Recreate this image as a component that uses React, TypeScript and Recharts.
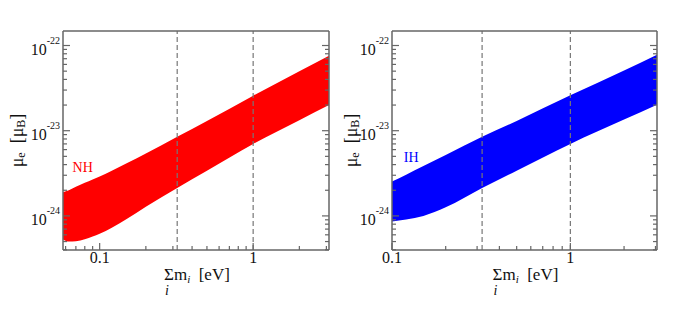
import React from 'react';
import { ComposedChart, Area, XAxis, YAxis, ReferenceLine, ReferenceDot, Label } from 'recharts';

// normal hierarchy band (sum of masses in eV vs mu_e in mu_B)
const nhMass = [0.0577, 0.063, 0.07, 0.08, 0.09, 0.1, 0.12, 0.15, 0.2, 0.32, 0.5, 1, 2, 3.12];
const nhLow = [5.3e-25, 5.0e-25, 5.05e-25, 5.33e-25, 5.73e-25, 6.18e-25, 7.26e-25, 9.2e-25, 1.28e-24, 2.13e-24, 3.4e-24, 7.0e-24, 1.33e-23, 2.0e-23];
const nhHigh = [1.9e-24, 2.0e-24, 2.2e-24, 2.45e-24, 2.68e-24, 2.9e-24, 3.4e-24, 4.15e-24, 5.4e-24, 8.5e-24, 1.3e-23, 2.58e-23, 5.0e-23, 7.6e-23];

// inverted hierarchy band
const ihMass = [0.1, 0.12, 0.15, 0.2, 0.32, 0.5, 1, 2, 3.06];
const ihLow = [8.6e-25, 9.1e-25, 1.0e-24, 1.26e-24, 2.13e-24, 3.4e-24, 7.0e-24, 1.35e-23, 2.02e-23];
const ihHigh = [2.53e-24, 3.05e-24, 3.85e-24, 5.2e-24, 8.5e-24, 1.3e-23, 2.6e-23, 5.1e-23, 7.8e-23];

const nhXTicks = [0.06, 0.07, 0.08, 0.09, 0.1, 0.2, 0.3, 0.4, 0.5, 0.6, 0.7, 0.8, 0.9, 1, 2, 3];
const ihXTicks = [0.1, 0.2, 0.3, 0.4, 0.5, 0.6, 0.7, 0.8, 0.9, 1, 2, 3];
const yTicks = [
  4e-25, 5e-25, 6e-25, 7e-25, 8e-25, 9e-25,
  1e-24, 2e-24, 3e-24, 4e-24, 5e-24, 6e-24, 7e-24, 8e-24, 9e-24,
  1e-23, 2e-23, 3e-23, 4e-23, 5e-23, 6e-23, 7e-23, 8e-23, 9e-23,
  1e-22,
];
const limitLines = [0.32, 1];

const FONT = "'Liberation Serif', 'Times New Roman', serif";
const FRAME = '#666';
const Y_DOMAIN = [3.98e-25, 1.48e-22];
const GAP = '\u00a0\u00a0';

const txt = (size: number, extra: React.CSSProperties = {}): React.CSSProperties => ({
  fontFamily: FONT,
  fontSize: size,
  ...extra,
});

const isMajor = (v: number) => Math.abs(Math.log10(v) - Math.round(Math.log10(v))) < 1e-6;

const BottomTick = (p: any) => {
  const v = p.payload.value;
  const major = isMajor(v);
  return (
    <g>
      <line x1={p.x} y1={p.y} x2={p.x} y2={p.y - (major ? 7 : 4)} stroke={FRAME} strokeWidth={1.2} />
      {major && (
        <text x={p.x} y={p.y + 13} textAnchor="middle" style={txt(16)} fill="#111">
          {v}
        </text>
      )}
    </g>
  );
};

const TopTick = (p: any) => {
  const major = isMajor(p.payload.value);
  return <line x1={p.x} y1={p.y} x2={p.x} y2={p.y + (major ? 7 : 4)} stroke={FRAME} strokeWidth={1.2} />;
};

const LeftTick = (p: any) => {
  const v = p.payload.value;
  const major = isMajor(v);
  return (
    <g>
      <line x1={p.x} y1={p.y} x2={p.x + (major ? 7 : 4)} y2={p.y} stroke={FRAME} strokeWidth={1.2} />
      {major && (
        <text x={p.x - 3} y={p.y + 9} textAnchor="end" style={txt(16)} fill="#111">
          10
          <tspan dy={-11} style={txt(10)}>
            {Math.round(Math.log10(v))}
          </tspan>
        </text>
      )}
    </g>
  );
};

const RightTick = (p: any) => {
  const major = isMajor(p.payload.value);
  return <line x1={p.x} y1={p.y} x2={p.x - (major ? 7 : 4)} y2={p.y} stroke={FRAME} strokeWidth={1.2} />;
};

const xTitle = (props: any) => {
  const { x, y, width } = props.viewBox;
  const sx = x + width / 2 - 32;
  return (
    <g fill="#111">
      <text x={sx} y={y + 30} style={txt(17)}>
        Σm
        <tspan dy={3} style={txt(11, { fontStyle: 'italic' })}>i</tspan>
        <tspan dy={-3}>{GAP + '[eV]'}</tspan>
      </text>
      <text x={sx + 1} y={y + 45} style={txt(14, { fontStyle: 'italic' })}>
        i
      </text>
    </g>
  );
};

const yTitle = (cx: number) => (props: any) => {
  const { y, height } = props.viewBox;
  const cy = y + height / 2;
  return (
    <text
      x={cx}
      y={cy}
      transform={`rotate(-90, ${cx}, ${cy})`}
      textAnchor="middle"
      dominantBaseline="central"
      style={txt(18)}
      fill="#111"
    >
      μ
      <tspan dy={4} style={txt(12)}>e</tspan>
      <tspan dy={-4}>{GAP + '[μ'}</tspan>
      <tspan dy={4} style={txt(12)}>B</tspan>
      <tspan dy={-4}>]</tspan>
    </text>
  );
};

type PanelProps = {
  mass: number[];
  low: number[];
  high: number[];
  xTicks: number[];
  xDomain: number[];
  color: string;
  tag: string;
  tagAt: [number, number];
  width: number;
  leftW: number;
  rightW: number;
  titleX: number;
};

const Panel = ({ mass, low, high, xTicks, xDomain, color, tag, tagAt, width, leftW, rightW, titleX }: PanelProps) => {
  const data = mass.map((m, i) => ({ m, band: [low[i], high[i]] }));
  return (
    <ComposedChart
      width={width}
      height={313}
      data={data}
      margin={{ top: 0, right: 0, bottom: 0, left: 0 }}
      style={{ overflow: 'visible' }}
    >
      <XAxis
        dataKey="m"
        type="number"
        scale="log"
        domain={xDomain}
        allowDataOverflow
        ticks={xTicks}
        interval={0}
        height={63}
        tickSize={0}
        tickMargin={0}
        tickLine={false}
        tick={<BottomTick />}
        axisLine={{ stroke: FRAME, strokeWidth: 1.5 }}
      >
        <Label content={xTitle} />
      </XAxis>
      <XAxis
        xAxisId="t"
        orientation="top"
        type="number"
        scale="log"
        domain={xDomain}
        allowDataOverflow
        ticks={xTicks}
        interval={0}
        height={31}
        tickSize={0}
        tickMargin={0}
        tickLine={false}
        tick={<TopTick />}
        axisLine={{ stroke: FRAME, strokeWidth: 1.5 }}
      />
      <YAxis
        type="number"
        scale="log"
        domain={Y_DOMAIN}
        allowDataOverflow
        ticks={yTicks}
        interval={0}
        width={leftW}
        tickSize={0}
        tickMargin={0}
        tickLine={false}
        tick={<LeftTick />}
        axisLine={{ stroke: FRAME, strokeWidth: 1.5 }}
      >
        <Label content={yTitle(titleX)} />
      </YAxis>
      <YAxis
        yAxisId="r"
        orientation="right"
        type="number"
        scale="log"
        domain={Y_DOMAIN}
        allowDataOverflow
        ticks={yTicks}
        interval={0}
        width={rightW}
        tickSize={0}
        tickMargin={0}
        tickLine={false}
        tick={<RightTick />}
        axisLine={{ stroke: FRAME, strokeWidth: 1.5 }}
      />
      <Area
        dataKey="band"
        type="monotone"
        stroke="none"
        fill={color}
        fillOpacity={1}
        isAnimationActive={false}
      />
      {limitLines.map((v) => (
        <ReferenceLine key={v} x={v} stroke="#777" strokeWidth={1.2} strokeDasharray="5 3" />
      ))}
      <ReferenceDot
        x={tagAt[0]}
        y={tagAt[1]}
        r={0}
        shape={(p: any) => (
          <text x={p.cx} y={p.cy} textAnchor="middle" dominantBaseline="central" style={txt(14)} fill={color}>
            {tag}
          </text>
        )}
      />
    </ComposedChart>
  );
};

export default function App() {
  return (
    <div style={{ position: 'absolute', left: 0, top: 0, width: 688, height: 313, background: '#fff', display: 'flex' }}>
      <Panel
        mass={nhMass}
        low={nhLow}
        high={nhHigh}
        xTicks={nhXTicks}
        xDomain={[0.0577, 3.12]}
        color="#ff0000"
        tag="NH"
        tagAt={[0.0775, 3.67e-24]}
        width={340}
        leftW={63}
        rightW={11}
        titleX={17}
      />
      <Panel
        mass={ihMass}
        low={ihLow}
        high={ihHigh}
        xTicks={ihXTicks}
        xDomain={[0.1, 3.06]}
        color="#0000ff"
        tag="IH"
        tagAt={[0.128, 4.88e-24]}
        width={348}
        leftW={52}
        rightW={31}
        titleX={11}
      />
    </div>
  );
}
